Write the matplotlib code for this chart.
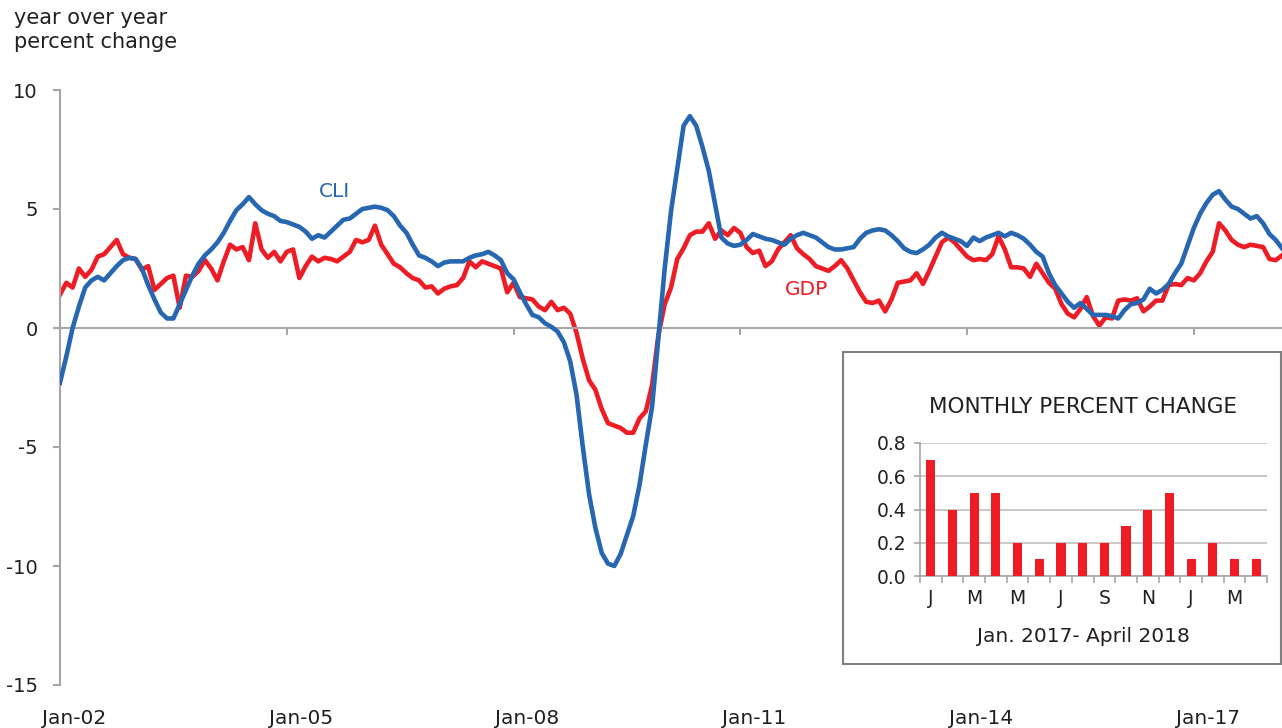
import numpy as np
import matplotlib.pyplot as plt
from matplotlib.patches import Rectangle

plt.rcParams['font.family'] = ['DejaVu Sans']

# monthly values, Jan 2002 - Mar 2018 (year over year percent change)
cli = [
    -2.3, -1.2, 0.0, 0.9, 1.7, 2.0, 2.15, 2.0, 2.3, 2.6, 2.85, 2.95,
    2.9, 2.5, 1.8, 1.2, 0.65, 0.4, 0.4, 1.0, 1.6, 2.2, 2.7, 3.05,
    3.3, 3.6, 4.0, 4.5, 4.95, 5.2, 5.5, 5.2, 4.95, 4.8, 4.7, 4.5,
    4.45, 4.35, 4.25, 4.05, 3.75, 3.9, 3.8, 4.05, 4.3, 4.55, 4.6, 4.8,
    5.0, 5.05, 5.1, 5.05, 4.95, 4.7, 4.3, 4.0, 3.5, 3.05, 2.95, 2.8,
    2.6, 2.75, 2.8, 2.8, 2.8, 2.95, 3.05, 3.1, 3.2, 3.05, 2.85, 2.3,
    2.05, 1.5, 1.0, 0.55, 0.45, 0.2, 0.05, -0.15, -0.6, -1.4, -2.8, -5.0,
    -7.0, -8.4, -9.45, -9.9, -10.0, -9.5, -8.7, -7.9, -6.6, -4.9, -3.3, -0.4,
    2.5, 4.9, 6.7, 8.5, 8.9, 8.5, 7.6, 6.6, 5.2, 3.8, 3.55, 3.45,
    3.5, 3.7, 3.95, 3.85, 3.75, 3.7, 3.6, 3.5, 3.75, 3.9, 4.0, 3.9,
    3.8, 3.6, 3.4, 3.3, 3.3, 3.35, 3.4, 3.75, 4.0, 4.1, 4.15, 4.1,
    3.9, 3.65, 3.35, 3.2, 3.15, 3.3, 3.5, 3.8, 4.0, 3.85, 3.75, 3.65,
    3.45, 3.8, 3.65, 3.8, 3.9, 4.0, 3.85, 4.0, 3.9, 3.75, 3.5, 3.2,
    3.0, 2.3, 1.8, 1.45, 1.1, 0.85, 1.05, 0.8, 0.55, 0.55, 0.55, 0.5,
    0.4, 0.75, 1.0, 1.05, 1.2, 1.65, 1.45, 1.6, 1.85, 2.3, 2.7, 3.45,
    4.2, 4.8, 5.25, 5.6, 5.75, 5.4, 5.1, 5.0, 4.8, 4.6, 4.7, 4.4,
    3.95, 3.7, 3.35,
]
gdp = [
    1.4, 1.9, 1.7, 2.5, 2.15, 2.45, 3.0, 3.1, 3.4, 3.7, 3.1, 2.95,
    2.9, 2.45, 2.6, 1.6, 1.85, 2.1, 2.2, 0.85, 2.2, 2.15, 2.4, 2.85,
    2.5, 2.0, 2.8, 3.5, 3.3, 3.4, 2.85, 4.4, 3.3, 2.95, 3.2, 2.8,
    3.2, 3.3, 2.1, 2.6, 3.0, 2.8, 2.95, 2.9, 2.8, 3.0, 3.2, 3.7,
    3.6, 3.7, 4.3, 3.5, 3.1, 2.7, 2.55, 2.3, 2.1, 2.0, 1.7, 1.75,
    1.45, 1.65, 1.75, 1.8, 2.1, 2.8, 2.55, 2.8, 2.7, 2.6, 2.5, 1.5,
    1.9, 1.3, 1.25, 1.2, 0.9, 0.75, 1.1, 0.75, 0.85, 0.6, -0.2, -1.3,
    -2.2, -2.6, -3.4, -4.0, -4.1, -4.2, -4.4, -4.4, -3.8, -3.5, -2.4, -0.3,
    1.0, 1.7, 2.9, 3.35, 3.9, 4.05, 4.05, 4.4, 3.75, 4.1, 3.9, 4.2,
    4.0, 3.4, 3.15, 3.25, 2.6, 2.8, 3.3, 3.6, 3.9, 3.35, 3.1, 2.9,
    2.6, 2.5, 2.4, 2.6, 2.85, 2.5, 2.0, 1.5, 1.1, 1.05, 1.15, 0.7,
    1.2, 1.9, 1.95, 2.0, 2.3, 1.85, 2.4, 3.0, 3.6, 3.8, 3.6, 3.3,
    3.0, 2.85, 2.9, 2.85, 3.1, 3.85, 3.3, 2.55, 2.55, 2.5, 2.15, 2.7,
    2.3, 1.9, 1.65, 1.0, 0.6, 0.45, 0.8, 1.3, 0.5, 0.1, 0.45, 0.4,
    1.15, 1.2, 1.15, 1.25, 0.7, 0.9, 1.15, 1.15, 1.8, 1.85, 1.8, 2.1,
    2.0, 2.3, 2.8, 3.2, 4.4, 4.1, 3.7, 3.5, 3.4, 3.5, 3.45, 3.4,
    2.9, 2.85, 3.05,
]
year_labels = ["Jan-02", "Jan-05", "Jan-08", "Jan-11", "Jan-14", "Jan-17"]
year_ticks = [0, 36, 72, 108, 144, 180]

# inset: monthly percent change, Jan 2017 - Apr 2018
inset_months = ["J", "F", "M", "A", "M", "J", "J", "A", "S", "O", "N", "D",
                "J", "F", "M", "A"]
inset_vals = [0.7, 0.4, 0.5, 0.5, 0.2, 0.1, 0.2, 0.2, 0.2, 0.3, 0.4, 0.5,
              0.1, 0.2, 0.1, 0.1]

blue = "#2766b0"
red = "#ee1c25"
gray = "#a6a6a6"
txt = "#231f20"

fig = plt.figure(figsize=(12.82, 7.28), dpi=100)
ax = fig.add_axes([60/1282, 1-685/728, 1-60/1282, (685-90)/728])

m = np.arange(len(cli))
ax.plot(m, cli, color=blue, lw=3.3, solid_joinstyle="round", zorder=3)
ax.plot(m, gdp, color=red, lw=3.3, solid_joinstyle="round", zorder=2)

ax.set_xlim(0, 194)
ax.set_ylim(-15, 10)
ax.set_yticks([10, 5, 0, -5, -10, -15])
ax.set_yticklabels(["10", "5", "0", "-5", "-10", "-15"])
for s in ["top", "right"]:
    ax.spines[s].set_visible(False)
ax.spines["left"].set_color(gray)
ax.spines["left"].set_linewidth(1.5)
ax.spines["bottom"].set_position(("data", 0))
ax.spines["bottom"].set_color(gray)
ax.spines["bottom"].set_linewidth(1.5)
ax.set_xticks(year_ticks)
ax.tick_params(axis="x", direction="out", length=5, width=1.5, color=gray,
               labelbottom=False)
ax.tick_params(axis="y", direction="out", length=5, width=1.5, color=gray,
               labelsize=14, labelcolor=txt, pad=11)

# date labels sit at the bottom of the plot
sec = ax.secondary_xaxis("bottom")
sec.set_xticks([t + 2.2 for t in year_ticks], year_labels)
sec.spines["bottom"].set_visible(False)
sec.tick_params(length=0, pad=17, labelsize=14.5, labelcolor=txt)

ax.text(43.5, 5.75, "CLI", color=blue, fontsize=14.5, ha="center",
        va="center")
ax.text(118.5, 1.6, "GDP", color=red, fontsize=14.5, ha="center",
        va="center")

fig.text(14/1282, 1-8/728, "year over year\npercent change", fontsize=15,
         color=txt, ha="left", va="top", linespacing=1.25)

# inset box
box = Rectangle((843/1282, 1-664/728), 1-843/1282 - 0.0005, (664-352)/728,
                transform=fig.transFigure, facecolor="white",
                edgecolor="#808080", lw=1.5, zorder=5)
fig.patches.append(box)

ins = fig.add_axes([920/1282, 1-576/728, (1267-920)/1282, (576-443)/728])
ins.set_zorder(6)
ins.bar(np.arange(len(inset_vals)), inset_vals, width=0.42, color=red,
        zorder=3)
ins.set_xlim(-0.5, len(inset_vals) - 0.5)
ins.set_ylim(0, 0.8)
ins.set_yticks([0.0, 0.2, 0.4, 0.6, 0.8])
ins.set_yticklabels(["0.0", "0.2", "0.4", "0.6", "0.8"])
ins.yaxis.grid(True, color="#bfbfbf", lw=1.2, zorder=0)
for s in ["top", "right"]:
    ins.spines[s].set_visible(False)
for s in ["left", "bottom"]:
    ins.spines[s].set_color(gray)
    ins.spines[s].set_linewidth(1.2)
ins.set_xticks(np.arange(-0.5, len(inset_vals)), minor=False)
ins.set_xticklabels([])
ins.set_xticks(np.arange(0, len(inset_vals), 2), minor=True)
ins.set_xticklabels(inset_months[::2], minor=True)
ins.tick_params(axis="x", which="major", direction="out", length=5,
                color=gray, width=1.2)
ins.tick_params(axis="x", which="minor", length=0, pad=9, labelsize=13.5,
                labelcolor=txt)
ins.tick_params(axis="y", direction="out", length=4, color=gray, width=1.2,
                labelsize=13.5, labelcolor=txt, pad=6)

fig.text(1083/1282, 1-407/728, "MONTHLY PERCENT CHANGE", fontsize=15.5,
         color=txt, ha="center", va="center", zorder=7)
fig.text(1083/1282, 1-636/728, "Jan. 2017- April 2018", fontsize=14.5,
         color=txt, ha="center", va="center", zorder=7)

fig.savefig("out.png", dpi=100)
